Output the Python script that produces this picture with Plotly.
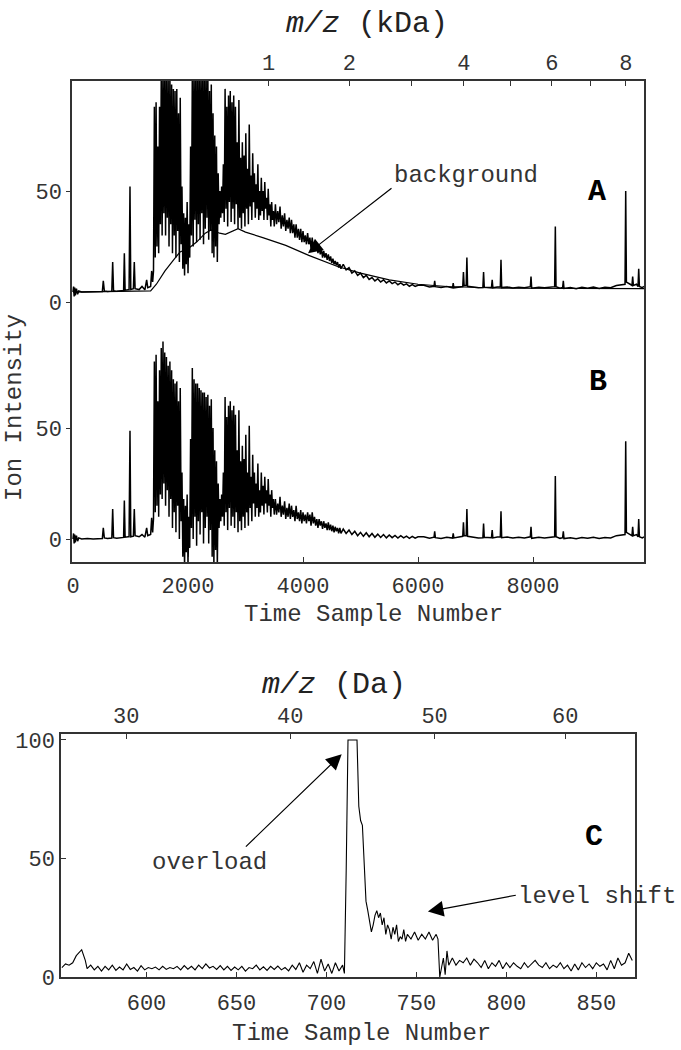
import math
import plotly.graph_objects as go

# ---------------- data: panels A (raw) and B (background removed) ----------------
t_pre = [0, 10, 20, 30, 40, 60, 80, 100, 150, 250, 350, 450, 510, 527, 545, 600, 675, 690, 705, 760,
         850, 880, 893, 906, 960, 975, 991, 1005, 1050, 1066, 1080, 1150, 1200, 1250, 1281, 1300, 1350, 1368, 1385]
a_pre = [4.5, 7, 2.5, 6.5, 3, 6, 3.5, 5, 4.5, 4.6, 4.5, 4.8, 4.7, 9.5, 5, 4.7, 4.9, 18, 5.1, 4.8,
         5, 5.2, 22, 5.3, 5.5, 5.5, 52, 5.6, 6, 18, 6, 5.6, 7, 5.5, 10, 6.5, 7, 14, 9]
b_pre = [0, 2.5, -2, 2, -1.5, 1.5, -1, 0.5, 0, 0.2, 0, 0.3, 0.2, 5, 0.5, 0.2, 0.4, 13.5, 0.6, 0.3,
         0.5, 0.7, 17.3, 0.8, 1, 1, 48.8, 1, 1.3, 13.5, 1.5, 1, 2, 0.8, 5, 1.5, 2, 9.5, 3]

t_dense = [1400, 1415, 1430, 1445, 1460, 1475, 1490, 1505, 1520, 1535,
           1550, 1565, 1580, 1595, 1610, 1625, 1640, 1655, 1670, 1685,
           1700, 1715, 1730, 1745, 1760, 1775, 1790, 1805, 1820, 1835,
           1850, 1865, 1880, 1895, 1910, 1925, 1940, 1955, 1970, 1985,
           2000, 2015, 2030, 2045, 2060, 2075, 2090, 2105, 2120, 2135,
           2150, 2165, 2180, 2195, 2210, 2225, 2240, 2255, 2270, 2285,
           2300, 2315, 2330, 2345, 2360, 2375, 2390, 2405, 2420, 2435,
           2450, 2465, 2480, 2495, 2510, 2525, 2540, 2555, 2570, 2585,
           2600, 2615, 2630, 2645, 2660, 2675, 2690, 2705, 2720, 2735,
           2750, 2765, 2780, 2795, 2810, 2825, 2840, 2855, 2870, 2885,
           2900, 2915, 2930, 2945, 2960, 2975, 2990, 3005, 3020, 3035,
           3050, 3065, 3080, 3095, 3110, 3125, 3140, 3155, 3170, 3185,
           3200, 3215, 3230, 3245, 3260, 3275, 3290, 3305, 3320, 3335,
           3350, 3365, 3380, 3395, 3410, 3425, 3440, 3455, 3470, 3485,
           3500]
a_dense = [14, 88, 20, 90, 25, 70, 22, 88, 35, 104,
           30, 104, 40, 104, 30, 104, 38, 100, 25, 104,
           35, 98, 22, 96, 30, 95, 20, 96, 32, 85,
           18, 92, 26, 52, 15, 40, 12, 38, 17, 45,
           13, 35, 20, 70, 30, 104, 25, 104, 37, 104,
           27, 104, 35, 104, 28, 104, 40, 104, 26, 104,
           33, 104, 38, 104, 28, 95, 32, 98, 22, 85,
           20, 75, 25, 70, 18, 58, 35, 50, 38, 52,
           40, 62, 36, 96, 42, 88, 34, 93, 45, 95,
           36, 90, 42, 93, 35, 88, 44, 72, 33, 91,
           38, 65, 33, 72, 40, 66, 34, 76, 42, 60,
           35, 80, 43, 57, 37, 67, 45, 58, 38, 53,
           42, 62, 37, 50, 39, 56, 41, 50, 37, 54,
           42, 47, 37, 51, 39, 44, 34, 45, 37, 41,
           34]
b_dense = [9, 80, 12, 83, 15, 62, 10, 76, 20, 86,
           18, 89, 25, 84, 15, 82, 22, 78, 10, 80,
           18, 76, 5, 72, 12, 70, 3, 71, 15, 62,
           0, 68, 8, 30, -8, 18, -12, 15, -6, 20,
           -12, 10, -4, 45, 5, 77, 0, 72, 10, 70,
           -3, 70, 8, 68, 2, 67, 12, 66, -2, 66,
           5, 64, 10, 65, -2, 60, 4, 63, -8, 50,
           -12, 40, -5, 35, -12, 25, 5, 18, 8, 20,
           10, 30, 6, 64, 12, 55, 4, 60, 14, 62,
           6, 58, 10, 60, 5, 56, 12, 40, 3, 58,
           8, 35, 4, 42, 10, 36, 5, 47, 12, 30,
           6, 51, 14, 28, 8, 38, 16, 30, 10, 25,
           14, 34, 10, 22, 12, 30, 15, 24, 11, 28,
           16, 22, 12, 27, 15, 20, 10, 22, 14, 18,
           11]

t_band = [3520, 3540, 3560, 3580, 3600, 3620, 3640, 3660, 3680, 3700,
          3720, 3740, 3760, 3780, 3800, 3820, 3840, 3860, 3880, 3900,
          3920, 3940, 3960, 3980, 4000, 4020, 4040, 4060, 4080, 4100,
          4120, 4140, 4160, 4180, 4200, 4220, 4240, 4260, 4280, 4300,
          4320, 4340, 4360, 4380, 4400, 4420, 4440, 4460, 4480, 4500,
          4520, 4540, 4560, 4580, 4600, 4620, 4640, 4660]
a_band = [44, 35, 41, 36, 43, 33, 39, 34, 40, 32,
          37, 33, 38, 31, 37, 31, 35, 29, 35, 29,
          33, 28, 33, 27, 32, 27, 30, 26, 31, 26,
          29, 24, 29, 24, 27, 23, 26, 22, 25, 21.5,
          24, 20, 23, 20, 22, 19, 21.5, 18.5, 20.5, 17.5,
          19.5, 17, 18.5, 16.5, 18, 15.5, 17, 15]
b_band = [18, 11, 16, 12, 19, 10, 15, 11, 17, 9,
          14, 10, 16, 9, 15, 10, 13, 8, 15, 9,
          12, 8, 13, 7, 12, 8, 11, 7, 12, 8,
          11, 6, 12, 7, 10, 6, 9, 5, 9, 6,
          8, 4.5, 8, 5, 7, 4, 7.5, 4, 6.5, 3.5,
          6, 3, 5.5, 3.5, 5, 2.5, 5, 2.5]

t_tail1 = [4700, 4750, 4800, 4850, 4900, 4950, 5000, 5050, 5100, 5150,
           5200, 5250, 5300, 5350, 5400, 5450, 5500, 5550, 5600, 5650,
           5700, 5750, 5800, 5850, 5900, 5950, 6000]
a_tail1 = [17, 14.5, 15.5, 13, 14, 12, 13, 11, 12, 10.2,
           11, 9.5, 10.5, 9, 10, 8.6, 9.5, 8.3, 9, 7.8,
           8.6, 7.6, 8.2, 7.1, 7.8, 7, 7.5]
b_tail1 = [4.5, 2.5, 4, 2, 3.5, 1.5, 3, 1.2, 2.8, 1,
           2.5, 0.8, 2.2, 0.7, 2, 0.5, 1.8, 0.6, 1.6, 0.4,
           1.5, 0.5, 1.3, 0.3, 1.2, 0.4, 1]

t_tail2 = [6100, 6200, 6278, 6290, 6302, 6400,
           6500, 6600, 6612, 6624, 6700, 6778, 6790, 6802, 6838, 6850,
           6862, 6950, 7050, 7128, 7140, 7152, 7230, 7278, 7290, 7302,
           7380, 7431, 7443, 7455, 7550, 7650, 7750, 7850, 7953, 7965,
           7977, 8100, 8200, 8300, 8376, 8388, 8400, 8470, 8515, 8527,
           8539, 8650, 8750, 8850, 8950, 9050, 9150, 9250, 9350, 9450,
           9540, 9600, 9612, 9624, 9690, 9721, 9733, 9745, 9800, 9826,
           9838, 9850, 9900, 9930]
a_tail2 = [7.5, 6.8, 7.1, 9.5, 6.9, 6.5,
           7, 6.4, 8.5, 6.4, 6.8, 7, 13.5, 7.4, 7.5, 20,
           7.1, 6.7, 6.4, 6.5, 13.5, 6.7, 6.4, 6.5, 10, 6.4,
           6.8, 6.9, 19, 6.5, 6.8, 6.3, 6.7, 6.4, 6.9, 11.5,
           6.2, 6.7, 6.4, 6.5, 6.9, 34, 6.9, 6.2, 6.5, 9.5,
           6.1, 6.5, 6, 6.6, 6.2, 6.7, 6.1, 6.6, 6.4, 7.4,
           7.7, 8, 50, 9, 8, 7.5, 11.5, 7.5, 8, 7,
           15, 7, 6.5, 7]
b_tail2 = [1, 0.3, 0.8, 3.5, 0.6, 0.2,
           0.8, 0.4, 2.5, 0.5, 0.9, 1.2, 7.5, 1.5, 1.5, 13.5,
           1.2, 0.8, 0.5, 0.6, 7, 0.8, 0.5, 0.6, 4, 0.5,
           0.9, 1, 12.5, 0.6, 0.9, 0.4, 0.8, 0.5, 1, 5.5,
           0.3, 0.8, 0.5, 0.6, 1, 28.4, 1, 0.3, 0.6, 3.5,
           0.2, 0.6, 0.1, 0.7, 0.3, 0.8, 0.2, 0.7, 0.5, 1.5,
           1.8, 2, 44, 3, 2, 1.5, 5.5, 1.5, 2, 1,
           9, 1, 0.5, 1]

# background estimate drawn in panel A
bg_t = [0, 1350, 1450, 1600, 1750, 1860, 2000, 2150, 2300, 2400, 2550, 2650,
        2870, 3000, 3300, 3700, 4100, 4600, 5000, 5500, 6000, 6500, 7500, 9930]
bg_a = [4.5, 5, 8, 14, 19, 22.5, 24, 27, 31, 32.5, 31, 30.5,
        33, 31.5, 29, 25.5, 21, 16, 13, 10, 8, 7, 6.2, 6]

# ---------------- data: panel C ----------------
c_t = [553, 555, 557, 559, 561, 563, 564, 566, 567, 569,
       571, 573, 575, 577, 579, 581, 583, 585, 587, 589,
       591, 593, 595, 597, 599, 601, 603, 605, 607, 609,
       611, 613, 615, 617, 619, 621, 623, 625, 627, 629,
       631, 633, 635, 637, 639, 641, 643, 645, 647, 649,
       651, 653, 655, 657, 659, 661, 663, 665, 667, 669,
       671, 673, 675, 677, 679, 681, 683, 685, 687, 689,
       691, 693, 695, 697, 699, 701, 703, 705, 707, 709,
       710, 711, 712, 714, 716, 717, 718, 719, 720, 721,
       722, 723, 724, 725, 726, 727, 728, 729, 730, 731,
       732, 733, 734, 735, 736, 737, 738, 739, 740, 741,
       742, 743, 744, 745, 747, 749, 751, 753, 755, 757,
       759, 761, 762, 763, 764, 765, 766, 767, 768, 770,
       772, 774, 776, 778, 780, 782, 784, 786, 788, 790,
       792, 794, 796, 798, 800, 802, 804, 806, 808, 810,
       812, 814, 816, 818, 820, 822, 824, 826, 828, 830,
       832, 834, 836, 838, 840, 842, 844, 846, 848, 850,
       852, 854, 856, 858, 860, 862, 864, 866, 868, 870]
c_v = [4, 5.5, 5, 6, 9, 11, 11.5, 7, 3.5, 5,
       3, 4.5, 2.5, 4.5, 3, 5, 2.8, 4.2, 3, 5.5,
       3.2, 4, 2.5, 4.8, 3, 4, 3.5, 4.2, 3, 4.5,
       3.2, 4, 3.5, 4.5, 3, 4.8, 3.3, 4.5, 3, 5,
       3.5, 5.5, 3.8, 4.5, 3.2, 4.8, 3, 4.5, 2.8, 4.2,
       3, 4.5, 2.5, 4, 3.5, 5, 3, 4.3, 2.8, 4.5,
       3.2, 4.6, 3, 4, 2.6, 5, 3.2, 6, 2, 5,
       3.5, 6.5, 1.5, 7.5, 2.5, 5.5, 1.5, 6, 2.5, 5,
       1.5, 45, 100, 100, 100, 100, 72, 66, 64, 45,
       32, 28, 24, 19, 22, 26, 28, 25, 27, 22,
       25, 18, 22, 20, 16, 21, 18, 22, 15, 17,
       16, 20, 15, 18, 16, 19, 15.5, 18, 16, 19,
       15.5, 18, 16, 0, 4, 8, 1, 11, 5, 8,
       5, 7, 6, 8, 5, 7.5, 6, 4, 7, 3.5,
       6, 4.5, 7, 3.5, 6, 4, 6, 4.5, 3.5, 6,
       4, 5.5, 7, 5, 4, 6, 3.5, 5, 4, 6,
       3.5, 5, 2.5, 5.5, 3, 6, 4, 5.5, 3.5, 6,
       4.5, 5.5, 3, 7, 3.5, 8, 5, 6, 10, 7]

# ---------------- tick labels ----------------
time_ticks_top = [0, 2000, 4000, 6000, 8000]
kda_ticks = [1, 2, 3, 4, 5, 6, 7, 8]
kda_labels = ["1", "2", "", "4", "", "6", "", "8"]
time_ticks_c = [600, 650, 700, 750, 800, 850]
da_ticks = [30, 40, 50, 60]
da_labels = ["30", "40", "50", "60"]
TOF_K = 107.5  # time samples per sqrt(Da)

t_top = t_pre + t_dense + t_band + t_tail1 + t_tail2
ion_a = a_pre + a_dense + a_band + a_tail1 + a_tail2
ion_b = b_pre + b_dense + b_band + b_tail1 + b_tail2

W, H = 681, 1050
FONT = "Liberation Mono"
INK = "#333333"


def fx(p):
    return p / W


def fy(p):
    return 1 - p / H


fig = go.Figure()
line_top = dict(color="black", width=1.5)
fig.add_trace(go.Scatter(x=t_top, y=ion_a, xaxis="x2", yaxis="y2", mode="lines", line=line_top))
fig.add_trace(go.Scatter(x=bg_t, y=bg_a, xaxis="x2", yaxis="y2", mode="lines", line=dict(color="black", width=1.2)))
fig.add_trace(go.Scatter(x=t_top, y=ion_b, xaxis="x", yaxis="y", mode="lines", line=line_top))
fig.add_trace(go.Scatter(x=c_t, y=c_v, xaxis="x3", yaxis="y3", mode="lines", line=dict(color="black", width=1.1)))
fig.add_trace(go.Scatter(x=c_t, y=c_v, xaxis="x4", yaxis="y3", mode="lines", line=dict(width=0), opacity=0,
                         hoverinfo="skip"))

tickfont = dict(family=FONT, size=22, color=INK)
common = dict(showgrid=False, zeroline=False, showline=True, linecolor=INK, linewidth=1.5,
              tickcolor=INK, tickwidth=1.2, tickfont=tickfont, fixedrange=True, automargin=False)

top_range = [-17.4, 9930]
c_range = [552.5, 871.5]

fig.update_layout(
    width=W, height=H, autosize=False, showlegend=False,
    margin=dict(l=0, r=0, t=0, b=0, pad=0, autoexpand=False),
    paper_bgcolor="white", plot_bgcolor="white",
    xaxis=dict(common, domain=[fx(72), fx(644)], anchor="y", range=top_range,
               tickmode="array", tickvals=time_ticks_top, ticks="inside", ticklen=5,
               ticklabelstandoff=3),
    xaxis2=dict(common, domain=[fx(72), fx(644)], anchor="y2", side="top", range=top_range,
                tickmode="array", tickvals=[TOF_K * math.sqrt(1000 * m) for m in kda_ticks],
                ticktext=kda_labels, ticks="inside", ticklen=5, ticklabelstandoff=0),
    yaxis2=dict(common, domain=[fy(320), fy(81)], anchor="x2", range=[-8.1, 99.55],
                tickmode="array", tickvals=[0, 50], ticks="outside", ticklen=4, mirror=True),
    yaxis=dict(common, domain=[fy(562), fy(320)], anchor="x", range=[-10.36, 98.65],
               tickmode="array", tickvals=[0, 50], ticks="outside", ticklen=4, mirror=True),
    xaxis3=dict(common, domain=[fx(61), fx(635)], anchor="y3", range=c_range,
                tickmode="array", tickvals=time_ticks_c, ticks="inside", ticklen=5,
                ticklabelstandoff=5),
    xaxis4=dict(common, domain=[fx(61), fx(635)], anchor="y3", overlaying="x3", side="top",
                range=c_range, tickmode="array", tickvals=[TOF_K * math.sqrt(m) for m in da_ticks],
                ticktext=da_labels, ticks="inside", ticklen=5, ticklabelstandoff=0),
    yaxis3=dict(common, domain=[fy(977), fy(734)], anchor="x3", range=[0, 102.5],
                tickmode="array", tickvals=[0, 50, 100], ticks="inside", ticklen=5, mirror=True),
)

txt = dict(family=FONT, size=24, color=INK)
big = dict(family=FONT, size=30, color="#222222")
lab = dict(family=FONT, size=30, color="black")
C = dict(xanchor="center", yanchor="middle", showarrow=False)
ann = [
    # titles
    dict(C, text="<i>m/z</i> (kDa)", x=fx(367), y=fy(24), xref="paper", yref="paper", font=big),
    dict(C, text="Time Sample Number", x=fx(373), y=fy(614), xref="paper", yref="paper", font=txt),
    dict(C, text="Ion Intensity", x=fx(14), y=fy(408), xref="paper", yref="paper", font=txt, textangle=-90),
    dict(C, text="<i>m/z</i> (Da)", x=fx(334), y=fy(685), xref="paper", yref="paper", font=big),
    dict(C, text="Time Sample Number", x=fx(361), y=fy(1033), xref="paper", yref="paper", font=txt),
    # panel labels
    dict(C, text="<b>A</b>", x=9113, y=49.5, xref="x2", yref="y2", font=lab),
    dict(C, text="<b>B</b>", x=9130, y=70.7, xref="x", yref="y", font=lab),
    dict(C, text="<b>C</b>", x=848.6, y=59.2, xref="x3", yref="y3", font=lab),
    # panel A annotation
    dict(C, text="background", x=6843, y=57.2, xref="x2", yref="y2", font=txt),
    dict(text="", x=4087, y=22, xref="x2", yref="y2", ax=5565, ay=51.8, axref="x2", ayref="y2",
         showarrow=True, arrowhead=2, arrowsize=2.4, arrowwidth=1.2, arrowcolor="black"),
    # panel C annotations
    dict(C, text="overload", x=635, y=48.1, xref="x3", yref="y3", font=txt),
    dict(text="", x=708.5, y=94, xref="x3", yref="y3", ax=654.4, ay=54.4, axref="x3", ayref="y3",
         showarrow=True, arrowhead=2, arrowsize=2.6, arrowwidth=1.2, arrowcolor="black"),
    dict(C, text="level shift", x=850.5, y=33.9, xref="x3", yref="y3", font=txt),
    dict(text="", x=756.4, y=27.6, xref="x3", yref="y3", ax=806.1, ay=34.6, axref="x3", ayref="y3",
         showarrow=True, arrowhead=2, arrowsize=2.6, arrowwidth=1.2, arrowcolor="black"),
]
fig.update_layout(annotations=ann)

page_js = ("var s=document.documentElement.style;s.margin='0';s.padding='0';s.overflow='hidden';"
           "var b=document.body.style;b.margin='0';b.padding='0';b.overflow='hidden';")
fig.write_html("out.html", config={"displayModeBar": False}, post_script=page_js)
